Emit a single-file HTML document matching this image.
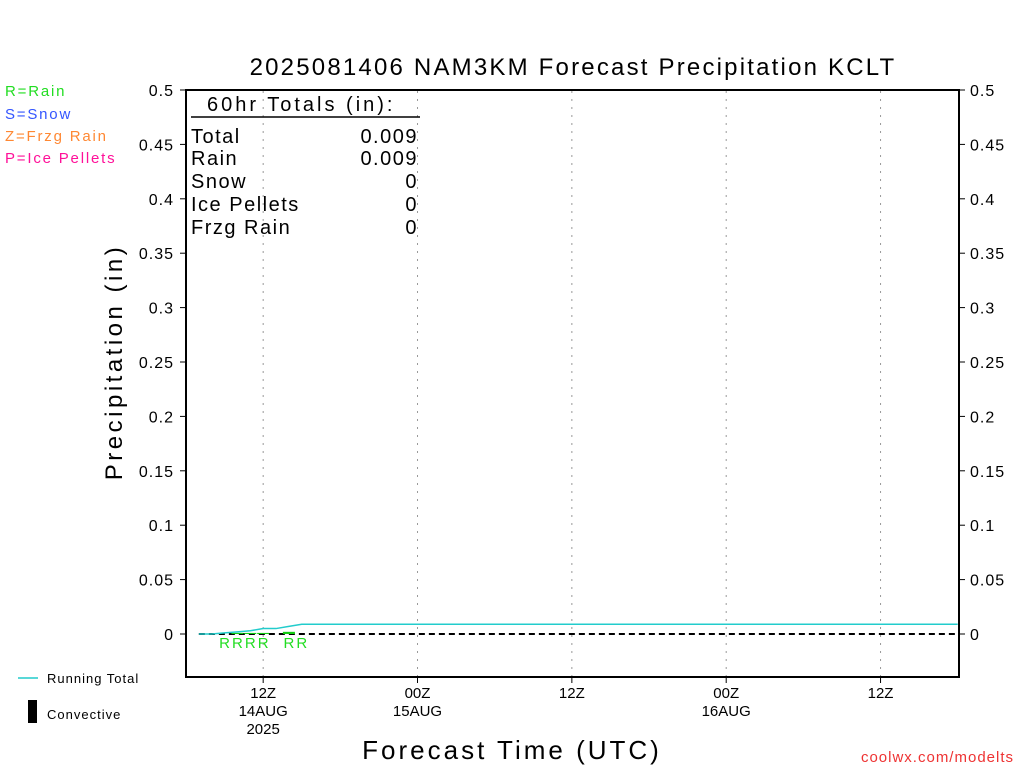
<!DOCTYPE html>
<html><head><meta charset="utf-8"><style>
body{margin:0;background:#fff;}
svg text{font-family:"Liberation Sans",sans-serif;}
</style></head><body>
<svg id="c" width="1024" height="768" xmlns="http://www.w3.org/2000/svg">
<text x="573" y="75" font-size="24" letter-spacing="2.2" text-anchor="middle" fill="#000">2025081406 NAM3KM Forecast Precipitation KCLT</text>
<g font-size="15" letter-spacing="1.8">
<text x="5" y="96" fill="#22dd22">R=Rain</text>
<text x="5" y="119" fill="#3355ff">S=Snow</text>
<text x="5" y="141" fill="#ff8833">Z=Frzg Rain</text>
<text x="5" y="163" fill="#ff1199">P=Ice Pellets</text>
</g>
<g id="grid"></g>
<rect x="186" y="90" width="773" height="587" fill="none" stroke="#000" stroke-width="2"/>
<g id="yticks" font-size="16"></g>
<g id="xticks" font-size="15"></g>
<text transform="translate(122,362) rotate(-90)" font-size="24" letter-spacing="3.5" text-anchor="middle">Precipitation (in)</text>
<text x="512" y="759" font-size="26" letter-spacing="3" text-anchor="middle">Forecast Time (UTC)</text>
<text x="1014" y="762" font-size="15" letter-spacing="1" text-anchor="end" fill="#ee3333">coolwx.com/modelts</text>
<g font-size="20" letter-spacing="1.5">
<text x="207" y="111" letter-spacing="3">60hr Totals (in):</text>
<line x1="191" y1="117" x2="420" y2="117" stroke="#000" stroke-width="1.5"/>
<text x="191" y="143">Total</text><text x="418" y="143" text-anchor="end">0.009</text>
<text x="191" y="165">Rain</text><text x="418" y="165" text-anchor="end">0.009</text>
<text x="191" y="188">Snow</text><text x="418" y="188" text-anchor="end">0</text>
<text x="191" y="211">Ice Pellets</text><text x="418" y="211" text-anchor="end">0</text>
<text x="191" y="234">Frzg Rain</text><text x="418" y="234" text-anchor="end">0</text>
</g>
<g letter-spacing="1">
<line x1="18" y1="678" x2="38" y2="678" stroke="#22cccc" stroke-width="1.5"/>
<text x="47" y="683" font-size="13">Running Total</text>
<rect x="28" y="700" width="9" height="23" fill="#000"/>
<text x="47" y="719" font-size="13">Convective</text>
</g>
<g id="marks"></g>
</svg>
<script>
const hours=[1,2,3,4,5,6,7,8,9,10,20,30,40,50,60];
const runningTotal=[0,0,0.001,0.002,0.003,0.005,0.005,0.007,0.009,0.009,0.009,0.009,0.009,0.009,0.009];
const barHours=[4,5,6,8];
const barValues=[0.001,0.001,0.001,0.002];
const rainHours=[3,4,5,6,8,9];
const yTicks=[0,0.05,0.1,0.15,0.2,0.25,0.3,0.35,0.4,0.45,0.5];
const xTickHours=[6,18,30,42,54];
const xTickLabels=[["12Z","14AUG","2025"],["00Z","15AUG"],["12Z"],["00Z","16AUG"],["12Z"]];
const X=h=>186+h*773/60.1;
const Y=v=>634-v*1088;
const NS="http://www.w3.org/2000/svg";
function mk(t,a,p){const e=document.createElementNS(NS,t);for(const k in a)e.setAttribute(k,a[k]);p.appendChild(e);return e;}
const grid=document.getElementById('grid'),yt=document.getElementById('yticks'),xt=document.getElementById('xticks'),m=document.getElementById('marks');
yTicks.forEach(v=>{
 const y=Y(v);
 const a=mk('text',{x:174,y:y+6,'text-anchor':'end','letter-spacing':1},yt);a.textContent=String(v);
 
 
 const b=mk('text',{x:970,y:y+6,'letter-spacing':1},yt);b.textContent=String(v);
 
 
 mk('line',{x1:180,x2:186,y1:y,y2:y,stroke:'#000'},yt);
 mk('line',{x1:959,x2:965,y1:y,y2:y,stroke:'#000'},yt);
});
xTickHours.forEach((h,i)=>{
 const x=X(h);
 const g=mk('line',{x1:x,x2:x,y1:91,y2:676,stroke:'#999','stroke-dasharray':'2,6'},grid);
 
 
 mk('line',{x1:x,x2:x,y1:677,y2:683,stroke:'#000'},xt);
 xTickLabels[i].forEach((s,j)=>{const t=mk('text',{x:x,y:698+j*18,'text-anchor':'middle'},xt);t.textContent=s;
  
  });
});
const z=mk('line',{x1:X(hours[0]),x2:959,y1:Y(0),y2:Y(0),stroke:'#000','stroke-width':2,'stroke-dasharray':'6,4'},m);


barHours.forEach((h,i)=>{
 const r=mk('rect',{x:X(h)-6,y:Y(barValues[i]),width:12,height:Y(0)-Y(barValues[i]),fill:'#11cc11'},m);
 
 
});
const pl=mk('polyline',{points:hours.map((h,i)=>X(h)+','+Y(runningTotal[i])).join(' '),fill:'none',stroke:'#22cccc','stroke-width':1.5},m);


rainHours.forEach(h=>{
 const t=mk('text',{x:X(h),y:648,'text-anchor':'middle','font-size':15,fill:'#22dd22'},m);t.textContent='R';
 
 
});
</script>
</body></html>
